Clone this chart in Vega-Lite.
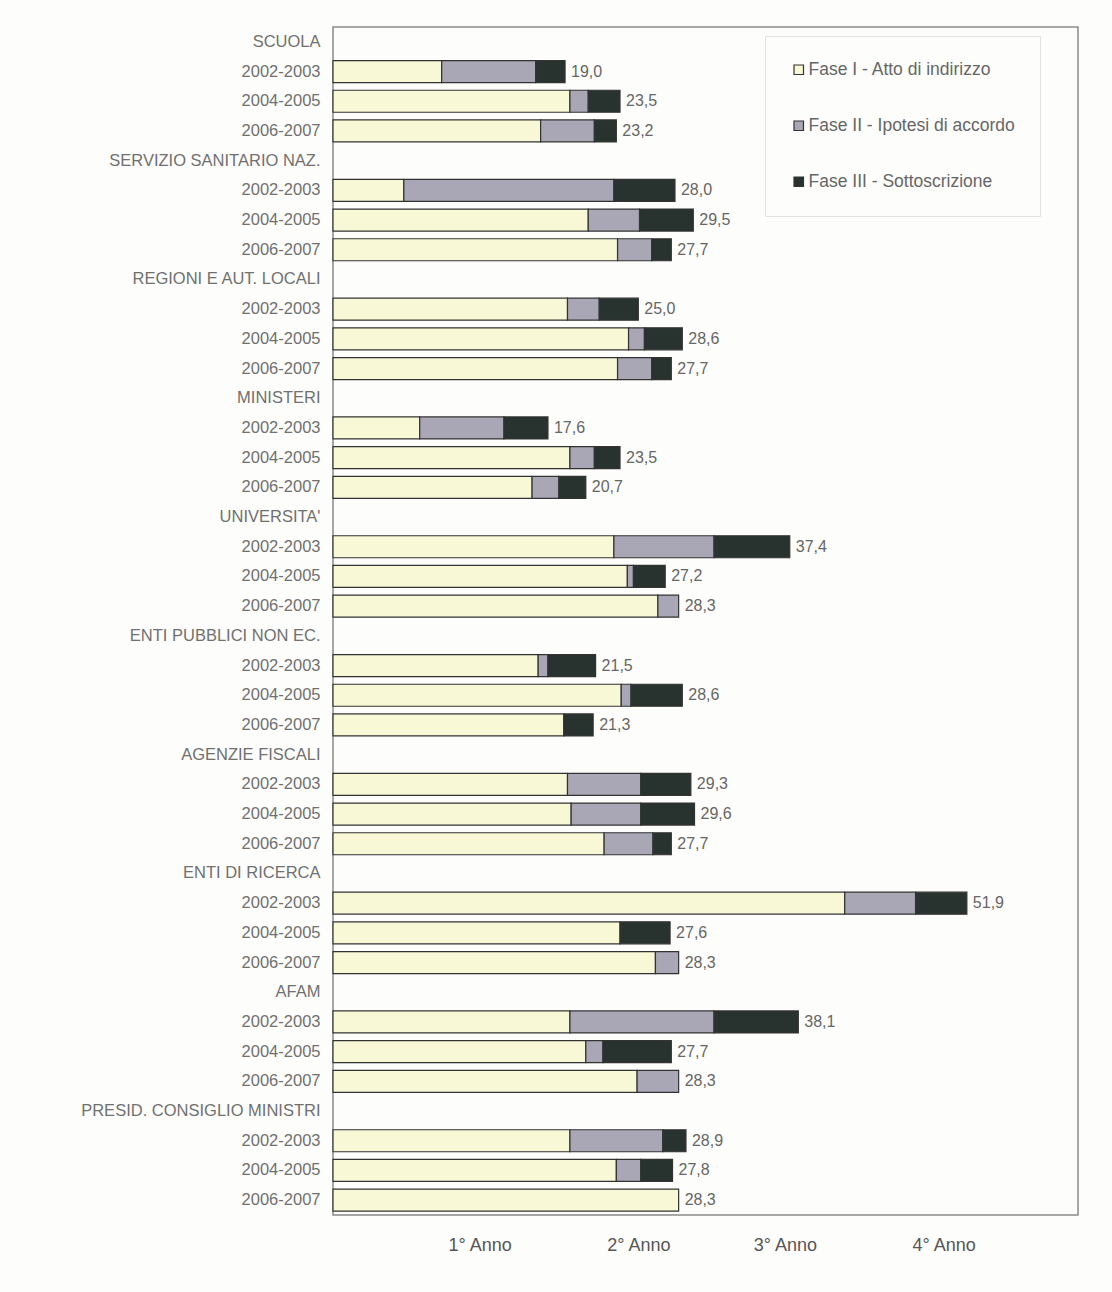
{
  "$schema": "https://vega.github.io/schema/vega-lite/v6.json",
  "autosize": "none",
  "padding": {"left": 333, "top": 27, "right": 34, "bottom": 77},
  "width": 745,
  "height": 1188,
  "background": "#fdfdfb",
  "config": {
    "font": "Liberation Sans",
    "view": {"stroke": "#8a8a8a", "strokeWidth": 1.5}
  },
  "datasets": {
    "segs": [
      {"k": "SCUOLA|2002-2003", "fase": "Fase I - Atto di indirizzo", "o": 1, "mesi": 8.9},
      {"k": "SCUOLA|2002-2003", "fase": "Fase II - Ipotesi di accordo", "o": 2, "mesi": 7.7},
      {"k": "SCUOLA|2002-2003", "fase": "Fase III - Sottoscrizione", "o": 3, "mesi": 2.4},
      {"k": "SCUOLA|2004-2005", "fase": "Fase I - Atto di indirizzo", "o": 1, "mesi": 19.4},
      {"k": "SCUOLA|2004-2005", "fase": "Fase II - Ipotesi di accordo", "o": 2, "mesi": 1.5},
      {"k": "SCUOLA|2004-2005", "fase": "Fase III - Sottoscrizione", "o": 3, "mesi": 2.6},
      {"k": "SCUOLA|2006-2007", "fase": "Fase I - Atto di indirizzo", "o": 1, "mesi": 17.0},
      {"k": "SCUOLA|2006-2007", "fase": "Fase II - Ipotesi di accordo", "o": 2, "mesi": 4.4},
      {"k": "SCUOLA|2006-2007", "fase": "Fase III - Sottoscrizione", "o": 3, "mesi": 1.8},

      {"k": "SERVIZIO SANITARIO NAZ.|2002-2003", "fase": "Fase I - Atto di indirizzo", "o": 1, "mesi": 5.8},
      {"k": "SERVIZIO SANITARIO NAZ.|2002-2003", "fase": "Fase II - Ipotesi di accordo", "o": 2, "mesi": 17.2},
      {"k": "SERVIZIO SANITARIO NAZ.|2002-2003", "fase": "Fase III - Sottoscrizione", "o": 3, "mesi": 5.0},
      {"k": "SERVIZIO SANITARIO NAZ.|2004-2005", "fase": "Fase I - Atto di indirizzo", "o": 1, "mesi": 20.9},
      {"k": "SERVIZIO SANITARIO NAZ.|2004-2005", "fase": "Fase II - Ipotesi di accordo", "o": 2, "mesi": 4.2},
      {"k": "SERVIZIO SANITARIO NAZ.|2004-2005", "fase": "Fase III - Sottoscrizione", "o": 3, "mesi": 4.4},
      {"k": "SERVIZIO SANITARIO NAZ.|2006-2007", "fase": "Fase I - Atto di indirizzo", "o": 1, "mesi": 23.3},
      {"k": "SERVIZIO SANITARIO NAZ.|2006-2007", "fase": "Fase II - Ipotesi di accordo", "o": 2, "mesi": 2.8},
      {"k": "SERVIZIO SANITARIO NAZ.|2006-2007", "fase": "Fase III - Sottoscrizione", "o": 3, "mesi": 1.6},

      {"k": "REGIONI E AUT. LOCALI|2002-2003", "fase": "Fase I - Atto di indirizzo", "o": 1, "mesi": 19.2},
      {"k": "REGIONI E AUT. LOCALI|2002-2003", "fase": "Fase II - Ipotesi di accordo", "o": 2, "mesi": 2.6},
      {"k": "REGIONI E AUT. LOCALI|2002-2003", "fase": "Fase III - Sottoscrizione", "o": 3, "mesi": 3.2},
      {"k": "REGIONI E AUT. LOCALI|2004-2005", "fase": "Fase I - Atto di indirizzo", "o": 1, "mesi": 24.2},
      {"k": "REGIONI E AUT. LOCALI|2004-2005", "fase": "Fase II - Ipotesi di accordo", "o": 2, "mesi": 1.3},
      {"k": "REGIONI E AUT. LOCALI|2004-2005", "fase": "Fase III - Sottoscrizione", "o": 3, "mesi": 3.1},
      {"k": "REGIONI E AUT. LOCALI|2006-2007", "fase": "Fase I - Atto di indirizzo", "o": 1, "mesi": 23.3},
      {"k": "REGIONI E AUT. LOCALI|2006-2007", "fase": "Fase II - Ipotesi di accordo", "o": 2, "mesi": 2.8},
      {"k": "REGIONI E AUT. LOCALI|2006-2007", "fase": "Fase III - Sottoscrizione", "o": 3, "mesi": 1.6},

      {"k": "MINISTERI|2002-2003", "fase": "Fase I - Atto di indirizzo", "o": 1, "mesi": 7.1},
      {"k": "MINISTERI|2002-2003", "fase": "Fase II - Ipotesi di accordo", "o": 2, "mesi": 6.9},
      {"k": "MINISTERI|2002-2003", "fase": "Fase III - Sottoscrizione", "o": 3, "mesi": 3.6},
      {"k": "MINISTERI|2004-2005", "fase": "Fase I - Atto di indirizzo", "o": 1, "mesi": 19.4},
      {"k": "MINISTERI|2004-2005", "fase": "Fase II - Ipotesi di accordo", "o": 2, "mesi": 2.0},
      {"k": "MINISTERI|2004-2005", "fase": "Fase III - Sottoscrizione", "o": 3, "mesi": 2.1},
      {"k": "MINISTERI|2006-2007", "fase": "Fase I - Atto di indirizzo", "o": 1, "mesi": 16.3},
      {"k": "MINISTERI|2006-2007", "fase": "Fase II - Ipotesi di accordo", "o": 2, "mesi": 2.2},
      {"k": "MINISTERI|2006-2007", "fase": "Fase III - Sottoscrizione", "o": 3, "mesi": 2.2},

      {"k": "UNIVERSITA'|2002-2003", "fase": "Fase I - Atto di indirizzo", "o": 1, "mesi": 23.0},
      {"k": "UNIVERSITA'|2002-2003", "fase": "Fase II - Ipotesi di accordo", "o": 2, "mesi": 8.2},
      {"k": "UNIVERSITA'|2002-2003", "fase": "Fase III - Sottoscrizione", "o": 3, "mesi": 6.2},
      {"k": "UNIVERSITA'|2004-2005", "fase": "Fase I - Atto di indirizzo", "o": 1, "mesi": 24.1},
      {"k": "UNIVERSITA'|2004-2005", "fase": "Fase II - Ipotesi di accordo", "o": 2, "mesi": 0.5},
      {"k": "UNIVERSITA'|2004-2005", "fase": "Fase III - Sottoscrizione", "o": 3, "mesi": 2.6},
      {"k": "UNIVERSITA'|2006-2007", "fase": "Fase I - Atto di indirizzo", "o": 1, "mesi": 26.6},
      {"k": "UNIVERSITA'|2006-2007", "fase": "Fase II - Ipotesi di accordo", "o": 2, "mesi": 1.7},

      {"k": "ENTI PUBBLICI NON EC.|2002-2003", "fase": "Fase I - Atto di indirizzo", "o": 1, "mesi": 16.8},
      {"k": "ENTI PUBBLICI NON EC.|2002-2003", "fase": "Fase II - Ipotesi di accordo", "o": 2, "mesi": 0.8},
      {"k": "ENTI PUBBLICI NON EC.|2002-2003", "fase": "Fase III - Sottoscrizione", "o": 3, "mesi": 3.9},
      {"k": "ENTI PUBBLICI NON EC.|2004-2005", "fase": "Fase I - Atto di indirizzo", "o": 1, "mesi": 23.6},
      {"k": "ENTI PUBBLICI NON EC.|2004-2005", "fase": "Fase II - Ipotesi di accordo", "o": 2, "mesi": 0.8},
      {"k": "ENTI PUBBLICI NON EC.|2004-2005", "fase": "Fase III - Sottoscrizione", "o": 3, "mesi": 4.2},
      {"k": "ENTI PUBBLICI NON EC.|2006-2007", "fase": "Fase I - Atto di indirizzo", "o": 1, "mesi": 18.9},
      {"k": "ENTI PUBBLICI NON EC.|2006-2007", "fase": "Fase III - Sottoscrizione", "o": 3, "mesi": 2.4},

      {"k": "AGENZIE FISCALI|2002-2003", "fase": "Fase I - Atto di indirizzo", "o": 1, "mesi": 19.2},
      {"k": "AGENZIE FISCALI|2002-2003", "fase": "Fase II - Ipotesi di accordo", "o": 2, "mesi": 6.0},
      {"k": "AGENZIE FISCALI|2002-2003", "fase": "Fase III - Sottoscrizione", "o": 3, "mesi": 4.1},
      {"k": "AGENZIE FISCALI|2004-2005", "fase": "Fase I - Atto di indirizzo", "o": 1, "mesi": 19.5},
      {"k": "AGENZIE FISCALI|2004-2005", "fase": "Fase II - Ipotesi di accordo", "o": 2, "mesi": 5.7},
      {"k": "AGENZIE FISCALI|2004-2005", "fase": "Fase III - Sottoscrizione", "o": 3, "mesi": 4.4},
      {"k": "AGENZIE FISCALI|2006-2007", "fase": "Fase I - Atto di indirizzo", "o": 1, "mesi": 22.2},
      {"k": "AGENZIE FISCALI|2006-2007", "fase": "Fase II - Ipotesi di accordo", "o": 2, "mesi": 4.0},
      {"k": "AGENZIE FISCALI|2006-2007", "fase": "Fase III - Sottoscrizione", "o": 3, "mesi": 1.5},

      {"k": "ENTI DI RICERCA|2002-2003", "fase": "Fase I - Atto di indirizzo", "o": 1, "mesi": 41.9},
      {"k": "ENTI DI RICERCA|2002-2003", "fase": "Fase II - Ipotesi di accordo", "o": 2, "mesi": 5.8},
      {"k": "ENTI DI RICERCA|2002-2003", "fase": "Fase III - Sottoscrizione", "o": 3, "mesi": 4.2},
      {"k": "ENTI DI RICERCA|2004-2005", "fase": "Fase I - Atto di indirizzo", "o": 1, "mesi": 23.5},
      {"k": "ENTI DI RICERCA|2004-2005", "fase": "Fase III - Sottoscrizione", "o": 3, "mesi": 4.1},
      {"k": "ENTI DI RICERCA|2006-2007", "fase": "Fase I - Atto di indirizzo", "o": 1, "mesi": 26.4},
      {"k": "ENTI DI RICERCA|2006-2007", "fase": "Fase II - Ipotesi di accordo", "o": 2, "mesi": 1.9},

      {"k": "AFAM|2002-2003", "fase": "Fase I - Atto di indirizzo", "o": 1, "mesi": 19.4},
      {"k": "AFAM|2002-2003", "fase": "Fase II - Ipotesi di accordo", "o": 2, "mesi": 11.8},
      {"k": "AFAM|2002-2003", "fase": "Fase III - Sottoscrizione", "o": 3, "mesi": 6.9},
      {"k": "AFAM|2004-2005", "fase": "Fase I - Atto di indirizzo", "o": 1, "mesi": 20.7},
      {"k": "AFAM|2004-2005", "fase": "Fase II - Ipotesi di accordo", "o": 2, "mesi": 1.4},
      {"k": "AFAM|2004-2005", "fase": "Fase III - Sottoscrizione", "o": 3, "mesi": 5.6},
      {"k": "AFAM|2006-2007", "fase": "Fase I - Atto di indirizzo", "o": 1, "mesi": 24.9},
      {"k": "AFAM|2006-2007", "fase": "Fase II - Ipotesi di accordo", "o": 2, "mesi": 3.4},

      {"k": "PRESID. CONSIGLIO MINISTRI|2002-2003", "fase": "Fase I - Atto di indirizzo", "o": 1, "mesi": 19.4},
      {"k": "PRESID. CONSIGLIO MINISTRI|2002-2003", "fase": "Fase II - Ipotesi di accordo", "o": 2, "mesi": 7.6},
      {"k": "PRESID. CONSIGLIO MINISTRI|2002-2003", "fase": "Fase III - Sottoscrizione", "o": 3, "mesi": 1.9},
      {"k": "PRESID. CONSIGLIO MINISTRI|2004-2005", "fase": "Fase I - Atto di indirizzo", "o": 1, "mesi": 23.2},
      {"k": "PRESID. CONSIGLIO MINISTRI|2004-2005", "fase": "Fase II - Ipotesi di accordo", "o": 2, "mesi": 2.0},
      {"k": "PRESID. CONSIGLIO MINISTRI|2004-2005", "fase": "Fase III - Sottoscrizione", "o": 3, "mesi": 2.6},
      {"k": "PRESID. CONSIGLIO MINISTRI|2006-2007", "fase": "Fase I - Atto di indirizzo", "o": 1, "mesi": 28.3}
    ],
    "tots": [
      {"k": "SCUOLA|2002-2003", "t": 19.0, "lab": "19,0"},
      {"k": "SCUOLA|2004-2005", "t": 23.5, "lab": "23,5"},
      {"k": "SCUOLA|2006-2007", "t": 23.2, "lab": "23,2"},
      {"k": "SERVIZIO SANITARIO NAZ.|2002-2003", "t": 28.0, "lab": "28,0"},
      {"k": "SERVIZIO SANITARIO NAZ.|2004-2005", "t": 29.5, "lab": "29,5"},
      {"k": "SERVIZIO SANITARIO NAZ.|2006-2007", "t": 27.7, "lab": "27,7"},
      {"k": "REGIONI E AUT. LOCALI|2002-2003", "t": 25.0, "lab": "25,0"},
      {"k": "REGIONI E AUT. LOCALI|2004-2005", "t": 28.6, "lab": "28,6"},
      {"k": "REGIONI E AUT. LOCALI|2006-2007", "t": 27.7, "lab": "27,7"},
      {"k": "MINISTERI|2002-2003", "t": 17.6, "lab": "17,6"},
      {"k": "MINISTERI|2004-2005", "t": 23.5, "lab": "23,5"},
      {"k": "MINISTERI|2006-2007", "t": 20.7, "lab": "20,7"},
      {"k": "UNIVERSITA'|2002-2003", "t": 37.4, "lab": "37,4"},
      {"k": "UNIVERSITA'|2004-2005", "t": 27.2, "lab": "27,2"},
      {"k": "UNIVERSITA'|2006-2007", "t": 28.3, "lab": "28,3"},
      {"k": "ENTI PUBBLICI NON EC.|2002-2003", "t": 21.5, "lab": "21,5"},
      {"k": "ENTI PUBBLICI NON EC.|2004-2005", "t": 28.6, "lab": "28,6"},
      {"k": "ENTI PUBBLICI NON EC.|2006-2007", "t": 21.3, "lab": "21,3"},
      {"k": "AGENZIE FISCALI|2002-2003", "t": 29.3, "lab": "29,3"},
      {"k": "AGENZIE FISCALI|2004-2005", "t": 29.6, "lab": "29,6"},
      {"k": "AGENZIE FISCALI|2006-2007", "t": 27.7, "lab": "27,7"},
      {"k": "ENTI DI RICERCA|2002-2003", "t": 51.9, "lab": "51,9"},
      {"k": "ENTI DI RICERCA|2004-2005", "t": 27.6, "lab": "27,6"},
      {"k": "ENTI DI RICERCA|2006-2007", "t": 28.3, "lab": "28,3"},
      {"k": "AFAM|2002-2003", "t": 38.1, "lab": "38,1"},
      {"k": "AFAM|2004-2005", "t": 27.7, "lab": "27,7"},
      {"k": "AFAM|2006-2007", "t": 28.3, "lab": "28,3"},
      {"k": "PRESID. CONSIGLIO MINISTRI|2002-2003", "t": 28.9, "lab": "28,9"},
      {"k": "PRESID. CONSIGLIO MINISTRI|2004-2005", "t": 27.8, "lab": "27,8"},
      {"k": "PRESID. CONSIGLIO MINISTRI|2006-2007", "t": 28.3, "lab": "28,3"}
    ]
  },
  "layer": [
    {
      "data": {"name": "segs"},
      "mark": {"type": "bar", "stroke": "#333333", "strokeWidth": 1.2},
      "encoding": {
        "y": {
          "field": "k",
          "type": "nominal",
          "title": null,
          "scale": {
            "domain": [
              "SCUOLA|", "SCUOLA|2002-2003", "SCUOLA|2004-2005", "SCUOLA|2006-2007",
              "SERVIZIO SANITARIO NAZ.|", "SERVIZIO SANITARIO NAZ.|2002-2003", "SERVIZIO SANITARIO NAZ.|2004-2005", "SERVIZIO SANITARIO NAZ.|2006-2007",
              "REGIONI E AUT. LOCALI|", "REGIONI E AUT. LOCALI|2002-2003", "REGIONI E AUT. LOCALI|2004-2005", "REGIONI E AUT. LOCALI|2006-2007",
              "MINISTERI|", "MINISTERI|2002-2003", "MINISTERI|2004-2005", "MINISTERI|2006-2007",
              "UNIVERSITA'|", "UNIVERSITA'|2002-2003", "UNIVERSITA'|2004-2005", "UNIVERSITA'|2006-2007",
              "ENTI PUBBLICI NON EC.|", "ENTI PUBBLICI NON EC.|2002-2003", "ENTI PUBBLICI NON EC.|2004-2005", "ENTI PUBBLICI NON EC.|2006-2007",
              "AGENZIE FISCALI|", "AGENZIE FISCALI|2002-2003", "AGENZIE FISCALI|2004-2005", "AGENZIE FISCALI|2006-2007",
              "ENTI DI RICERCA|", "ENTI DI RICERCA|2002-2003", "ENTI DI RICERCA|2004-2005", "ENTI DI RICERCA|2006-2007",
              "AFAM|", "AFAM|2002-2003", "AFAM|2004-2005", "AFAM|2006-2007",
              "PRESID. CONSIGLIO MINISTRI|", "PRESID. CONSIGLIO MINISTRI|2002-2003", "PRESID. CONSIGLIO MINISTRI|2004-2005", "PRESID. CONSIGLIO MINISTRI|2006-2007"
            ],
            "paddingInner": 0.26,
            "paddingOuter": 0.13
          },
          "axis": {
            "labelExpr": "split(datum.value, '|')[1] == '' ? split(datum.value, '|')[0] : split(datum.value, '|')[1]",
            "ticks": false,
            "domain": false,
            "labelPadding": 13,
            "labelFontSize": 16.5,
            "labelColor": "#707070",
            "labelLimit": 400
          }
        },
        "x": {
          "field": "mesi",
          "type": "quantitative",
          "stack": "zero",
          "title": null,
          "scale": {"domain": [0, 61], "nice": false},
          "axis": {
            "values": [12, 25, 37, 50],
            "labelExpr": "datum.value == 12 ? '1° Anno' : datum.value == 25 ? '2° Anno' : datum.value == 37 ? '3° Anno' : '4° Anno'",
            "grid": false,
            "ticks": false,
            "domain": false,
            "labelPadding": 21,
            "labelFontSize": 18,
            "labelColor": "#555555"
          }
        },
        "order": {"field": "o", "type": "quantitative"},
        "color": {
          "field": "fase",
          "type": "nominal",
          "scale": {
            "domain": ["Fase I - Atto di indirizzo", "Fase II - Ipotesi di accordo", "Fase III - Sottoscrizione"],
            "range": ["#f8f8d6", "#a9a6b6", "#28322e"]
          },
          "legend": {
            "title": null,
            "orient": "none",
            "legendX": 432,
            "legendY": 9,
            "symbolType": "square",
            "symbolSize": 90,
            "symbolStrokeColor": "#333333",
            "symbolStrokeWidth": 1.2,
            "labelOffset": 1,
            "labelFontSize": 17.5,
            "labelColor": "#666666",
            "labelLimit": 400,
            "rowPadding": 37,
            "padding": 25,
            "strokeColor": "#e2e2e2",
            "fillColor": "#fdfdfb"
          }
        }
      }
    },
    {
      "data": {"name": "tots"},
      "mark": {"type": "text", "align": "left", "baseline": "middle", "dx": 6, "fontSize": 16, "color": "#666666"},
      "encoding": {
        "y": {"field": "k", "type": "nominal"},
        "x": {"field": "t", "type": "quantitative"},
        "text": {"field": "lab"}
      }
    }
  ]
}
